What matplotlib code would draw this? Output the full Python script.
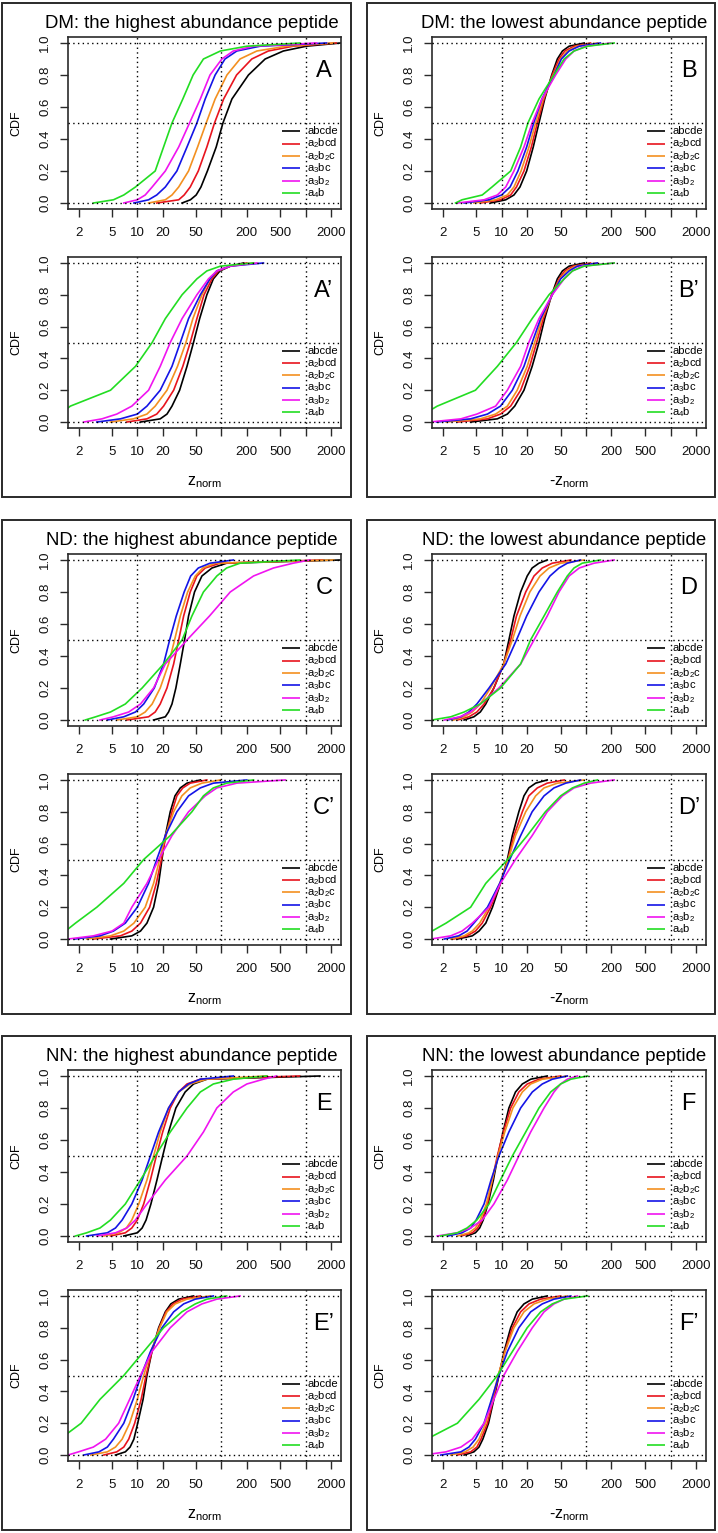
import matplotlib
matplotlib.use("Agg")
import matplotlib.pyplot as plt
from matplotlib.patches import Rectangle
from matplotlib.ticker import NullLocator

plt.rcParams['font.family'] = ['Liberation Sans', 'DejaVu Sans']
plt.rcParams['mathtext.default'] = 'regular'

# ---------------- data ----------------
CDF_LEVELS = [0, 0.02, 0.05, 0.1, 0.2, 0.35, 0.5, 0.65, 0.8, 0.9, 0.95, 0.98, 1.0]
SERIES = ['abcde', 'a2bcd', 'a2b2c', 'a3bc', 'a3b2', 'a4b']
SERIES_LABELS = ['abcde', '$a_2bcd$', '$a_2b_2c$', '$a_3bc$', '$a_3b_2$', '$a_4b$']
SERIES_COLORS = ['black', '#E8141E', '#F39020', '#1414E6', '#F014F0', '#22DD22']

# z value reached at each CDF level, per panel and series
panel_A = {
    'abcde': [34, 42.7, 50, 57, 68, 86.5, 104, 133, 209, 330, 543, 1020, 2600],
    'a2bcd': [17, 31, 36, 42.5, 53, 67, 82.6, 106, 151, 229, 360, 710, 2300],
    'a2b2c': [13.6, 21.5, 25.8, 31, 40.6, 52, 65.8, 84, 116, 166, 263, 590, 2150],
    'a3bc':  [9.1, 13.6, 17, 21.5, 29.5, 38.9, 51, 64, 84, 110, 152, 287, 1770],
    'a3b2':  [6.9, 10, 12.4, 15, 21.5, 31, 41.7, 56, 73, 101, 138, 240, 1350],
    'a4b':   [3.0, 5.2, 6.9, 9.5, 16.3, 20.5, 25.8, 34.7, 46, 61, 97, 200, 850],
}
panel_A2 = {
    'abcde': [10.9, 18.7, 22.5, 25.8, 31.8, 38.9, 46.5, 55, 67, 80, 96, 127, 183],
    'a2bcd': [7.5, 13, 17, 20.5, 27, 34.7, 42.5, 51, 62, 77, 92, 127, 200],
    'a2b2c': [4.8, 9, 13, 16.3, 22.5, 30, 37.8, 45.7, 58.5, 73, 88, 127, 240],
    'a3bc':  [3.3, 6.3, 10, 13, 18.7, 25.8, 32.4, 40.6, 56, 73, 88, 127, 315],
    'a3b2':  [2.3, 3.8, 5.7, 8.6, 13.6, 18.7, 24.6, 34, 51, 70, 88, 127, 263],
    'a4b':   [0.6, 0.9, 1.2, 1.6, 4.8, 9.5, 15, 21.5, 34, 51, 67, 97, 240],
}
panel_B = {
    'abcde': [7.4, 11.2, 14, 16.5, 19.8, 23.7, 27.7, 32.4, 39.2, 45.7, 52.5, 63, 95],
    'a2bcd': [5.6, 9.7, 12.8, 15, 18.4, 22.5, 26.5, 31.8, 39.8, 47.8, 56, 72, 113],
    'a2b2c': [4.7, 8.5, 11.7, 14, 17, 21.1, 25.3, 31, 41, 50, 60, 78, 136],
    'a3bc':  [3.6, 7.1, 10, 12.6, 15.6, 19.8, 24, 30, 41.7, 51, 63, 83, 148],
    'a3b2':  [3.0, 6.2, 8.9, 11.2, 14, 18.4, 23, 30, 43.6, 57.5, 72, 99, 196],
    'a4b':   [2.85, 3.4, 5.9, 7.7, 12.8, 16.8, 20.5, 27.7, 41.7, 55, 72, 104, 215],
}
panel_B2 = {
    'abcde': [4.3, 8.9, 11.7, 14.3, 18.4, 23, 27.7, 32.4, 39.2, 45.7, 52.5, 63, 95],
    'a2bcd': [3.0, 6.8, 9.7, 12.8, 16.8, 21.5, 26, 31.2, 39.2, 47.8, 56, 70, 113],
    'a2b2c': [2.2, 5.6, 8.5, 11.7, 15.3, 20.1, 24.6, 30, 39.8, 49, 59, 75, 136],
    'a3bc':  [1.7, 4.3, 6.8, 9.7, 13.4, 18.4, 23, 29, 39.8, 50, 63, 79, 136],
    'a3b2':  [1.4, 3.3, 5.1, 8.5, 11.7, 16.8, 21, 27.7, 39.8, 55, 69, 90, 215],
    'a4b':   [0.6, 0.9, 1.2, 1.73, 4.9, 8.9, 15, 23, 36.4, 55, 69, 95, 215],
}
panel_C = {
    'abcde': [15.6, 21.5, 23.5, 25.8, 28.7, 32.4, 36.4, 40.6, 47.8, 58.5, 77, 115, 2600],
    'a2bcd': [7.5, 13.6, 16.3, 18.7, 22.5, 27, 31, 35.5, 42.5, 51, 64, 96, 1600],
    'a2b2c': [5.7, 10, 12.4, 15, 18.7, 23.5, 27.7, 32.4, 39.6, 48.8, 60, 84, 2150],
    'a3bc':  [4.4, 6.9, 9.5, 11.9, 15.9, 20.5, 24.2, 29, 36, 43, 53, 73, 138],
    'a3b2':  [3.6, 5.2, 7.9, 10.9, 15.6, 21.5, 38.9, 72, 127, 240, 414, 710, 1120],
    'a4b':   [2.4, 3.2, 4.8, 7.2, 11.4, 20.5, 34, 44.5, 61, 88, 115, 166, 850],
}
panel_C2 = {
    'abcde': [4.8, 8.6, 10.9, 13, 15.6, 17.9, 19.6, 21.5, 24.6, 28, 32.4, 38.9, 56],
    'a2bcd': [3.0, 6.3, 8.6, 10.9, 14, 16.8, 19.3, 21.9, 25.8, 29.5, 34.7, 42.5, 67],
    'a2b2c': [2.5, 4.8, 6.9, 9.1, 12.4, 15.6, 18.4, 21.5, 27, 33.8, 42.5, 58.5, 97],
    'a3bc':  [1.8, 3.6, 5.2, 7.2, 10, 13.6, 17, 21.5, 29.5, 40.6, 56, 80, 200],
    'a3b2':  [1.5, 3.0, 5.0, 6.9, 8.6, 13, 17.9, 25.8, 40.6, 64, 88, 152, 570],
    'a4b':   [0.7, 1.0, 1.4, 1.84, 3.3, 6.9, 11.9, 24.6, 44.5, 61, 80, 115, 240],
}
panel_D = {
    'abcde': [3.6, 4.7, 5.6, 6.5, 8.1, 10.6, 12.2, 14, 16.8, 20.1, 23, 27.7, 34.7],
    'a2bcd': [3.0, 4.1, 5.1, 6.2, 8.1, 10.6, 12.8, 15, 19.3, 24.2, 30.3, 39.8, 66],
    'a2b2c': [2.7, 3.6, 4.5, 5.6, 7.4, 10.6, 13.4, 16.5, 21.6, 28.5, 36.4, 50, 95],
    'a3bc':  [2.3, 3.3, 4.1, 5.1, 7.1, 11.2, 15, 19.8, 27.7, 37.4, 47.8, 60, 86],
    'a3b2':  [2.1, 3.2, 4.3, 5.6, 9.3, 16.8, 24.2, 34.7, 47.8, 63, 83, 124, 215],
    'a4b':   [1.5, 2.5, 3.6, 5.6, 9.7, 16.8, 22, 31.8, 45.7, 60, 72, 90, 148],
}
panel_D2 = {
    'abcde': [3.0, 4.5, 5.4, 6.5, 7.8, 9.7, 11.7, 13.4, 16, 18.4, 21, 25.3, 34.7],
    'a2bcd': [2.7, 3.9, 4.9, 5.9, 7.4, 9.7, 11.9, 14, 17.6, 21, 26.5, 34.7, 55],
    'a2b2c': [2.5, 3.6, 4.5, 5.5, 7.1, 9.5, 12, 14.6, 19.3, 25.3, 31.8, 45.7, 95],
    'a3bc':  [2.1, 3.1, 3.9, 4.7, 6.8, 9.5, 12.5, 16.8, 23, 31.8, 41.7, 57.5, 86],
    'a3b2':  [1.46, 2.5, 3.4, 4.5, 7.1, 9.7, 14.6, 23, 34.7, 52.5, 72, 113, 215],
    'a4b':   [0.8, 1.1, 1.5, 2.2, 4.3, 6.5, 11.8, 20.1, 33, 50, 69, 95, 136],
}
panel_E = {
    'abcde': [6.9, 10, 11.4, 12.7, 14.5, 17.1, 20, 23.5, 28.7, 37, 46.5, 67, 1480],
    'a2bcd': [4.8, 7.2, 8.6, 10, 11.9, 14.3, 16.8, 20, 24.6, 30.9, 38.9, 56, 850],
    'a2b2c': [4.0, 6.0, 7.4, 8.6, 10.4, 13, 15.6, 18.7, 23.5, 30.9, 42.5, 67, 345],
    'a3bc':  [2.5, 4.4, 5.5, 6.6, 8.6, 11.4, 14.3, 17.9, 23.5, 30.9, 40.6, 56, 138],
    'a3b2':  [3.3, 5.5, 7.5, 9.5, 13, 21.5, 38.9, 61, 88, 138, 200, 315, 450],
    'a4b':   [1.84, 2.5, 3.6, 4.8, 7.2, 10.9, 16.3, 24.6, 38.9, 56, 80, 138, 345],
}
panel_E2 = {
    'abcde': [5.5, 7.2, 8.2, 9.1, 10.1, 11.7, 13, 14.9, 17.9, 21.5, 25, 30.9, 46.6],
    'a2bcd': [4.0, 5.7, 6.9, 7.9, 9.3, 11.1, 12.7, 14.9, 18.2, 21.9, 26.5, 33.8, 56],
    'a2b2c': [2.8, 4.4, 5.5, 6.6, 8.1, 10, 11.9, 14.5, 18.4, 22.5, 28.2, 38.9, 73],
    'a3bc':  [2.3, 3.5, 4.4, 5.2, 6.9, 8.9, 11.1, 14.3, 19.6, 27, 35.5, 48.8, 80],
    'a3b2':  [1.5, 2.0, 3.0, 4.2, 6.0, 8.1, 10.9, 14.9, 24.6, 38.9, 58.5, 88, 166],
    'a4b':   [0.5, 0.7, 0.9, 1.2, 2.15, 3.6, 6.9, 11.9, 20.5, 33.8, 48.8, 67, 115],
}
panel_F = {
    'abcde': [3.9, 4.9, 5.5, 6.06, 6.9, 8.0, 9.05, 10.4, 12.2, 14.6, 17.6, 22.1, 34.7],
    'a2bcd': [3.3, 4.5, 5.2, 5.9, 6.8, 7.75, 8.9, 10.5, 12.8, 16, 20.1, 27.7, 50],
    'a2b2c': [3.0, 4.1, 4.9, 5.6, 6.6, 7.75, 9.05, 10.9, 13.6, 17.6, 22.1, 30.3, 60],
    'a3bc':  [2.3, 3.4, 4.3, 5.0, 6.2, 7.5, 9.3, 12.2, 16.8, 23.1, 30.3, 39.8, 60],
    'a3b2':  [1.73, 3.0, 4.3, 5.9, 8.1, 11.7, 16, 22.1, 31.8, 41.7, 50, 60, 79],
    'a4b':   [1.9, 3.0, 3.9, 5.1, 7.1, 9.7, 13.4, 19.3, 27.7, 38.1, 50, 66, 104],
}
panel_F2 = {
    'abcde': [3.6, 4.7, 5.4, 6.0, 7.0, 8.1, 9.3, 10.7, 12.8, 15.3, 18.4, 23.1, 34.7],
    'a2bcd': [3.0, 4.3, 5.1, 5.7, 6.8, 8.0, 9.2, 10.9, 13.4, 16.8, 21.1, 29, 50],
    'a2b2c': [2.5, 3.7, 4.6, 5.4, 6.5, 7.75, 9.1, 11, 14, 18.4, 24.2, 34.7, 60],
    'a3bc':  [1.9, 3.3, 4.1, 4.9, 6.2, 7.6, 9.3, 11.7, 16, 22.1, 30.3, 41.7, 66],
    'a3b2':  [1.2, 2.2, 3.3, 4.5, 6.2, 8.1, 10.6, 15.3, 23.1, 31.8, 41.7, 54.8, 79],
    'a4b':   [0.5, 0.7, 0.95, 1.3, 3.0, 5.4, 8.9, 13.4, 20.1, 29, 39.8, 54.8, 104],
}

TITLES = [
    ['DM: the highest abundance peptide', 'DM: the lowest abundance peptide'],
    ['ND: the highest abundance peptide', 'ND: the lowest abundance peptide'],
    ['NN: the highest abundance peptide', 'NN: the lowest abundance peptide'],
]
PANELS = [
    [(panel_A, panel_A2, 'A'), (panel_B, panel_B2, 'B')],
    [(panel_C, panel_C2, 'C'), (panel_D, panel_D2, 'D')],
    [(panel_E, panel_E2, 'E'), (panel_F, panel_F2, 'F')],
]
XLABELS = ['$z_{norm}$', '-$z_{norm}$']

XTICKS = [2, 5, 10, 20, 50, 100, 200, 500, 1000, 2000]
XTICKLABELS = ['2', '5', '10', '20', '50', '', '200', '500', '', '2000']
YTICKS = [0, 0.2, 0.4, 0.6, 0.8, 1.0]
YTICKLABELS = ['0.0', '0.2', '0.4', '0.6', '0.8', '1.0']
GRID_X = [10, 100, 1000]
GRID_Y = [0, 0.5, 1.0]

# ---------------- layout (pixels) ----------------
W, H = 718, 1533
fig = plt.figure(figsize=(W / 100, H / 100), dpi=100)


def frect(x0, y0, x1, y1):
    return [x0 / W, 1 - y1 / H, (x1 - x0) / W, (y1 - y0) / H]


COL_AX = [(68, 341), (432, 706)]
COL_BOX = [(2, 351), (367, 715)]
COL_TITLE_X = [192, 564]
ROW_OFF = [0, 517, 1033]
SUB_Y = [(37, 209), (257, 428)]
EDGE = '#2a2a2a'


def style_axes(ax):
    ax.set_xscale('log')
    ax.set_xlim(1.5, 2630)
    ax.set_ylim(-0.0375, 1.0375)
    ax.set_xticks(XTICKS)
    ax.set_xticklabels(XTICKLABELS)
    ax.xaxis.set_minor_locator(NullLocator())
    ax.set_yticks(YTICKS)
    ax.set_yticklabels(YTICKLABELS)
    ax.tick_params(axis='both', direction='out', length=5.5, width=1.0,
                   color=EDGE, labelsize=9.5, labelcolor='#111111')
    ax.tick_params(axis='x', pad=7.5)
    ax.tick_params(axis='y', pad=6.5)
    for lab in ax.get_yticklabels():
        lab.set_rotation(90)
        lab.set_va('center')
    for sp in ax.spines.values():
        sp.set_linewidth(1.2)
        sp.set_color(EDGE)
    for gx in GRID_X:
        ax.axvline(gx, color='black', linestyle=(0, (1, 2.4)), lw=1.0, zorder=3)
    for gy in GRID_Y:
        ax.axhline(gy, color='black', linestyle=(0, (1, 2.4)), lw=1.0, zorder=3)
    ax.text(-0.19, 0.5, 'CDF', transform=ax.transAxes, rotation=90,
            ha='center', va='center', fontsize=9)


def draw_legend(ax):
    y0, dy = 0.453, 0.0722
    for i, (lab, col) in enumerate(zip(SERIES_LABELS, SERIES_COLORS)):
        y = y0 - i * dy
        ax.plot([0.784, 0.850], [y, y], transform=ax.transAxes, color=col,
                lw=1.2, solid_capstyle='butt', zorder=4)
        ax.text(0.877, y, lab, transform=ax.transAxes, ha='left', va='center',
                fontsize=8, zorder=4)


for r in range(3):
    off = ROW_OFF[r]
    for c in range(2):
        bx0, bx1 = COL_BOX[c]
        fig.patches.append(Rectangle((bx0 / W, 1 - (497 + off) / H),
                                     (bx1 - bx0) / W, (494) / H,
                                     transform=fig.transFigure, fill=False,
                                     edgecolor=EDGE, lw=1.4))
        fig.text(COL_TITLE_X[c] / W, 1 - (28 + off) / H, TITLES[r][c],
                 ha='center', va='baseline', fontsize=13.4)
        top_data, bot_data, letter = PANELS[r][c]
        ax0, ax1 = COL_AX[c]
        for k, (data, lett) in enumerate([(top_data, letter),
                                          (bot_data, letter + '\u2019')]):
            ys0, ys1 = SUB_Y[k]
            ax = fig.add_axes(frect(ax0, ys0 + off, ax1, ys1 + off))
            for s, col in zip(SERIES, SERIES_COLORS):
                ax.plot(data[s], CDF_LEVELS, color=col, lw=1.2, zorder=2)
            style_axes(ax)
            draw_legend(ax)
            ax.text(0.937, 0.80, lett, transform=ax.transAxes, ha='center',
                    va='center', fontsize=17)
            if k == 1:
                ax.text(0.5, -0.315, XLABELS[c], transform=ax.transAxes,
                        ha='center', va='center', fontsize=11.5)

fig.savefig('out.png', dpi=100)
